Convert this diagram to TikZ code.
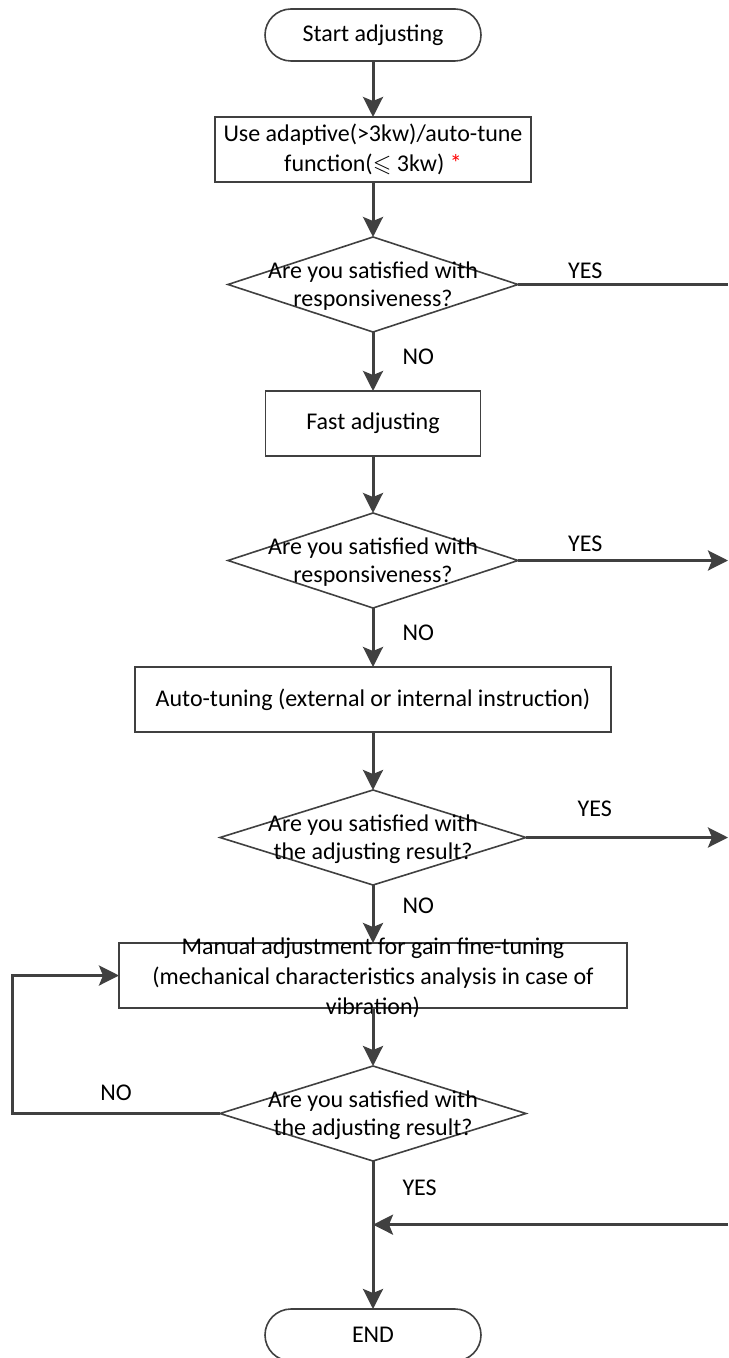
\documentclass[tikz,border=0pt]{standalone}
\usepackage{fontspec}
\setmainfont{Carlito}
\usepackage{amssymb}
\usepackage{xcolor}
\usetikzlibrary{arrows.meta, positioning, calc, shapes.geometric}
\definecolor{linegray}{HTML}{404040}

\begin{document}
\begin{tikzpicture}[
  x=1pt, y=1pt,
  font=\fontsize{12}{15}\selectfont,
  box/.style={draw=linegray, line width=0.8pt, minimum height=32.5pt,
              inner sep=2pt, outer sep=0pt, align=center},
  term/.style={box, rounded corners=13pt, minimum width=108pt, minimum height=26pt},
  decision/.style={draw=linegray, line width=0.8pt, diamond, inner sep=0pt,
                   outer sep=0pt, minimum width=145pt, minimum height=47.5pt},
  dtext/.style={align=center, font=\fontsize{12}{14}\selectfont, yshift=-1pt},
  lbl/.style={inner sep=2pt},
  link/.style={draw=linegray, line width=1.5pt},
  >={Stealth[length=10pt, width=10pt, inset=2pt]},
  node distance=29pt
]
\useasboundingbox (0,0) rectangle (364,-679);

% --- Main column ---
\node[term] (start) at (186.5,-17.5) {Start adjusting};
\node[box, minimum width=158pt, below=28pt of start] (adapt)
  {Use adaptive(>3kw)/auto-tune\\function($\leqslant$ 3kw) \textcolor{red}{*}};
\node[decision, below=27.5pt of adapt] (resp1) {};
\node[box, minimum width=107.5pt, below=29.5pt of resp1] (fast) {Fast adjusting};
\node[decision, below=28.5pt of fast] (resp2) {};
\node[box, minimum width=238pt, below=29.5pt of resp2] (autotune)
  {Auto-tuning (external or internal instruction)};
\node[decision, minimum width=153pt, below=of autotune] (res1) {};
\node[box, minimum width=254pt, below=of res1] (manual) {};
\node[decision, minimum width=153pt, below=of manual] (res2) {};
\node[term, below=74pt of res2] (end) {END};

% --- Texts over the shapes ---
\node[dtext] at (resp1) {Are you satisfied with\\responsiveness?};
\node[dtext] at (resp2) {Are you satisfied with\\responsiveness?};
\node[dtext] at (res1) {Are you satisfied with\\the adjusting result?};
\node[dtext] at (res2) {Are you satisfied with\\the adjusting result?};
\node[dtext, font=\fontsize{12}{15}\selectfont] at (manual)
  {Manual adjustment for gain fine-tuning\\(mechanical characteristics analysis in case of\\vibration)};

% --- Helper coordinates ---
\coordinate (edge) at (364,0);
\coordinate (loop) at (6,0);
\coordinate (join) at ($(res2.south)!0.43!(end.north)$);

% === Arrows: spine ===
\draw[link,->] (start) -- (adapt);
\draw[link,->] (adapt) -- (resp1);
\draw[link,->] (resp1) -- node[lbl, pos=0.42, right=12pt] {NO} (fast);
\draw[link,->] (fast) -- (resp2);
\draw[link,->] (resp2) -- node[lbl, pos=0.42, right=12pt] {NO} (autotune);
\draw[link,->] (autotune) -- (res1);
\draw[link,->] (res1) -- node[lbl, pos=0.36, right=12pt] {NO} (manual);
\draw[link,->] (manual) -- (res2);
\draw[link,->] (res2) -- node[lbl, pos=0.18, right=12pt] {YES} (end);

% === Arrows: YES branches to the right ===
\draw[link] (resp1.east) -- node[lbl, pos=0.32, above] {YES} (resp1.east -| edge);
\draw[link,->] (resp2.east) -- node[lbl, pos=0.32, above=1.5pt] {YES} (resp2.east -| edge);
\draw[link,->] (res1.east) -- node[lbl, pos=0.34, above=7.5pt] {YES} (res1.east -| edge);
\draw[link,->] (join -| edge) -- (join);

% === Arrow: loop back ===
\draw[link,->] (res2.west) -- node[lbl, above=3.5pt] {NO} (res2.west -| loop) |- (manual.west);

\end{tikzpicture}
\end{document}
